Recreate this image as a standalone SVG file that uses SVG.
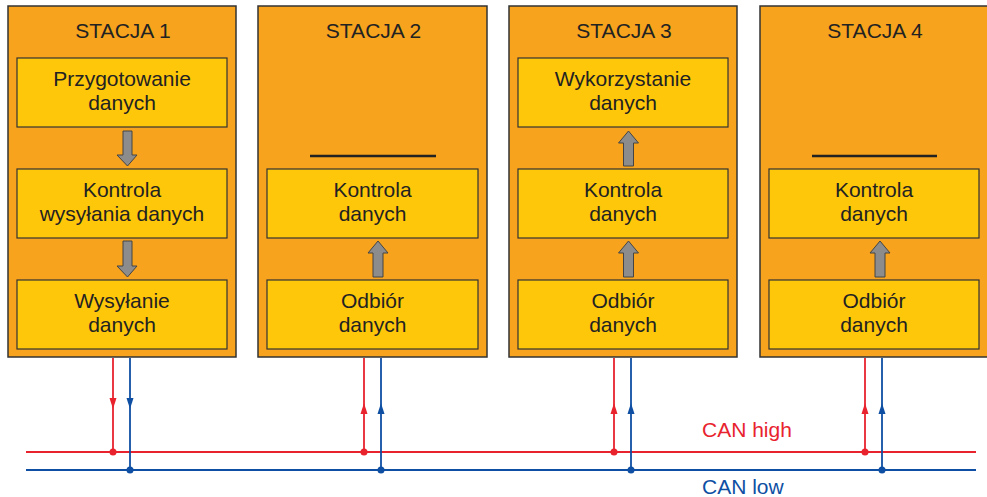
<svg xmlns="http://www.w3.org/2000/svg" width="987" height="497" viewBox="0 0 987 497">
  <style>
    .station { fill: #F7A31D; stroke: #333; stroke-width: 1.5; }
    .box { fill: #FFC70A; stroke: #333; stroke-width: 1.2; }
    .title { font-family: "Liberation Sans", Arial, sans-serif; font-size: 21px; fill: #222; text-anchor: middle; }
    .txt { font-family: "Liberation Sans", Arial, sans-serif; font-size: 21px; fill: #222; text-anchor: middle; }
    .flow { fill: #8C8C8C; stroke: #444; stroke-width: 1; }
    .sep { stroke: #222; stroke-width: 2.5; }
    .hi { stroke: #E8232E; stroke-width: 1.8; fill: none; }
    .lo { stroke: #0E4FA3; stroke-width: 1.8; fill: none; }
    .hiF { fill: #E8232E; }
    .loF { fill: #0E4FA3; }
    .lbl { font-family: "Liberation Sans", Arial, sans-serif; font-size: 21px; }
  </style>
  <rect width="987" height="497" fill="#fff"/>

  <!-- Station 1: transmitter -->
  <g id="stacja1">
    <rect class="station" x="8" y="6" width="228" height="351"/>
    <text class="title" x="123" y="38">STACJA 1</text>
    <rect class="box" x="17" y="58" width="210" height="69"/>
    <text class="txt" x="122" y="86">Przygotowanie</text>
    <text class="txt" x="122" y="110">danych</text>
    <path class="flow" d="M123,131 H132 V155 H137 L127.5,166 L117,155 H123 Z"/>
    <rect class="box" x="17" y="169" width="210" height="69"/>
    <text class="txt" x="122" y="197">Kontrola</text>
    <text class="txt" x="122" y="221">wysyłania danych</text>
    <path class="flow" d="M123,241 H132 V266 H137 L127.5,277 L117,266 H123 Z"/>
    <rect class="box" x="17" y="280" width="210" height="69"/>
    <text class="txt" x="122" y="308">Wysyłanie</text>
    <text class="txt" x="122" y="332">danych</text>
  </g>

  <!-- Station 2: receiver -->
  <g id="stacja2">
    <rect class="station" x="258" y="6" width="229" height="351"/>
    <text class="title" x="373.5" y="38">STACJA 2</text>
    <line class="sep" x1="310" y1="156" x2="436" y2="156"/>
    <rect class="box" x="267" y="169" width="211" height="69"/>
    <text class="txt" x="372.5" y="197">Kontrola</text>
    <text class="txt" x="372.5" y="221">danych</text>
    <path class="flow" d="M373,277 V253 H368 L378,241 L388,253 H383 V277 Z"/>
    <rect class="box" x="267" y="280" width="211" height="69"/>
    <text class="txt" x="372.5" y="308">Odbiór</text>
    <text class="txt" x="372.5" y="332">danych</text>
  </g>

  <!-- Station 3: receiver using the data -->
  <g id="stacja3">
    <rect class="station" x="509" y="6" width="228" height="351"/>
    <text class="title" x="624" y="38">STACJA 3</text>
    <rect class="box" x="518" y="58" width="210" height="69"/>
    <text class="txt" x="623" y="86">Wykorzystanie</text>
    <text class="txt" x="623" y="110">danych</text>
    <path class="flow" d="M623.5,166 V143 H618.5 L628.5,131 L638.5,143 H633.5 V166 Z"/>
    <rect class="box" x="518" y="169" width="210" height="69"/>
    <text class="txt" x="623" y="197">Kontrola</text>
    <text class="txt" x="623" y="221">danych</text>
    <path class="flow" d="M623.5,277 V253 H618.5 L628.5,241 L638.5,253 H633.5 V277 Z"/>
    <rect class="box" x="518" y="280" width="210" height="69"/>
    <text class="txt" x="623" y="308">Odbiór</text>
    <text class="txt" x="623" y="332">danych</text>
  </g>

  <!-- Station 4: receiver -->
  <g id="stacja4">
    <rect class="station" x="760" y="6" width="228" height="351"/>
    <text class="title" x="875" y="38">STACJA 4</text>
    <line class="sep" x1="812" y1="156" x2="937" y2="156"/>
    <rect class="box" x="769" y="169" width="210" height="69"/>
    <text class="txt" x="874" y="197">Kontrola</text>
    <text class="txt" x="874" y="221">danych</text>
    <path class="flow" d="M875,277 V253 H870 L880,241 L890,253 H885 V277 Z"/>
    <rect class="box" x="769" y="280" width="210" height="69"/>
    <text class="txt" x="874" y="308">Odbiór</text>
    <text class="txt" x="874" y="332">danych</text>
  </g>

  <!-- CAN bus wiring -->
  <g id="connectors">
    <line class="hi" x1="26" y1="452" x2="976" y2="452"/>
    <line class="lo" x1="26" y1="470" x2="976" y2="470"/>

    <!-- station 1 drives the bus -->
    <line class="hi" x1="113" y1="358" x2="113" y2="452"/>
    <line class="lo" x1="130" y1="358" x2="130" y2="470"/>
    <path class="hiF" d="M109.5,398 H116.5 L113,409 Z"/>
    <path class="loF" d="M126.5,398 H133.5 L130,409 Z"/>

    <!-- stations 2-4 listen -->
    <line class="hi" x1="364" y1="358" x2="364" y2="452"/>
    <line class="lo" x1="381" y1="358" x2="381" y2="470"/>
    <path class="hiF" d="M360.5,414 H367.5 L364,403 Z"/>
    <path class="loF" d="M377.5,414 H384.5 L381,403 Z"/>

    <line class="hi" x1="614" y1="358" x2="614" y2="452"/>
    <line class="lo" x1="631" y1="358" x2="631" y2="470"/>
    <path class="hiF" d="M610.5,414 H617.5 L614,403 Z"/>
    <path class="loF" d="M627.5,414 H634.5 L631,403 Z"/>

    <line class="hi" x1="865" y1="358" x2="865" y2="452"/>
    <line class="lo" x1="882" y1="358" x2="882" y2="470"/>
    <path class="hiF" d="M861.5,414 H868.5 L865,403 Z"/>
    <path class="loF" d="M878.5,414 H885.5 L882,403 Z"/>

    <circle class="hiF" cx="113" cy="452" r="3.5"/>
    <circle class="loF" cx="130" cy="470" r="3.5"/>
    <circle class="hiF" cx="364" cy="452" r="3.5"/>
    <circle class="loF" cx="381" cy="470" r="3.5"/>
    <circle class="hiF" cx="614" cy="452" r="3.5"/>
    <circle class="loF" cx="631" cy="470" r="3.5"/>
    <circle class="hiF" cx="865" cy="452" r="3.5"/>
    <circle class="loF" cx="882" cy="470" r="3.5"/>

    <text class="lbl hiF" x="702" y="437">CAN high</text>
    <text class="lbl loF" x="702" y="494">CAN low</text>
  </g>
</svg>
